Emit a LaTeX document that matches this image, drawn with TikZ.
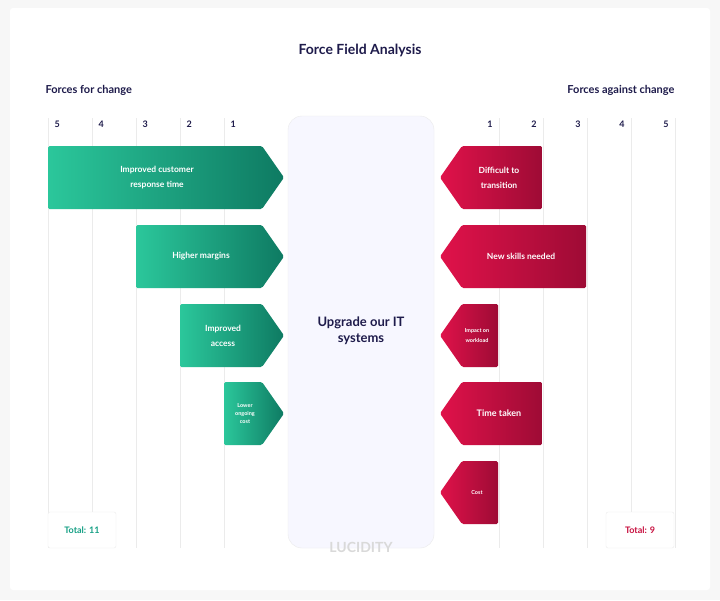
\documentclass[tikz,border=0pt]{standalone}
\usepackage{fontspec}
\setmainfont{Lato}
\usetikzlibrary{positioning}
\definecolor{forgreen}{HTML}{16A085}
\definecolor{forgreenl}{HTML}{2BC79B}
\definecolor{forgreend}{HTML}{0E7A62}
\definecolor{agred}{HTML}{C8103F}
\definecolor{agredl}{HTML}{E0124A}
\definecolor{agredd}{HTML}{9E0B35}
\definecolor{navy}{HTML}{1E1B4B}
\tikzset{x=1pt, y=-1pt,
        grid/.style={draw=black!8, line width=0.8pt},
        num/.style={font=\bfseries\fontsize{9}{10}\selectfont, text=navy},
        head/.style={font=\bfseries\fontsize{11}{13}\selectfont, text=navy},
        lbl/.style={text=white, align=center},
        tot/.style={draw=black!8, fill=white, rounded corners=2pt, minimum width=68pt, minimum height=36pt, font=\bfseries\fontsize{9}{10}\selectfont}}
\begin{document}
\begin{tikzpicture}
    \fill[black!3] (0,0) rectangle (720,600);
    \fill[white, rounded corners=3pt] (10,8) rectangle (710,590);
    \useasboundingbox (0,0) rectangle (720,600);

    \node[font=\bfseries\fontsize{14}{16}\selectfont, text=navy] (title) at (360,50) {Force Field Analysis};
    \node[head, anchor=west] (forhead) at (42,90) {Forces for change};
    \node[head, anchor=east] (aghead) at (678,90) {Forces against change};

    % scale lines with numbers
    \foreach \n/\x in {5/48, 4/92, 3/136, 2/180, 1/224} {
      \draw[grid] (\x,118) -- (\x,548);
      \node[num, anchor=west] (fn\n) at (\x+3,124) {\n};
    }
    \foreach \n/\x in {1/499, 2/543, 3/587, 4/631, 5/675} {
      \draw[grid] (\x,118) -- (\x,548);
      \node[num, anchor=east] (an\n) at (\x-3,124) {\n};
    }

    % centre box
    \draw[black!8, fill=blue!3, rounded corners=14pt] (288,116) rectangle (434,548);
    \node[font=\bfseries\fontsize{13}{16}\selectfont, text=navy, align=center] (goal) at (361,331) {Upgrade our IT\\systems};
    \node[font=\bfseries\fontsize{14}{16}\selectfont, text=black!15] (logo) at (361,547) {LUCIDITY};

    % forces for change
    \foreach \l/\t/\s/\b/\txt in {48/146/8.5/15/{Improved customer\\response time}, 136/225/8.5/15/Higher margins,
        180/304/8.5/15/{Improved\\access}, 224/382/5.5/8/{Lower\\ongoing\\cost}} {
      \shade[left color=forgreenl, right color=forgreend, rounded corners=1.5pt]
        (\l,\t) -- (262,\t) -- (284,\t+31.5) -- (262,\t+63) -- (\l,\t+63) -- cycle;
      \node[lbl, font=\bfseries\fontsize{\s}{\b}\selectfont] at ({(\l+266)/2},\t+31.5) {\txt};
    }

    % forces against change
    \foreach \r/\t/\s/\b/\txt in {542/146/8.5/15/{Difficult to\\transition}, 586/225/8.5/15/New skills needed,
        498/304/5.5/10/{Impact on\\workload}, 542/382/9/15/Time taken, 498/461/5.5/10/Cost} {
      \shade[left color=agredl, right color=agredd, rounded corners=1.5pt]
        (\r,\t) -- (462,\t) -- (440,\t+31.5) -- (462,\t+63) -- (\r,\t+63) -- cycle;
      \node[lbl, font=\bfseries\fontsize{\s}{\b}\selectfont] at ({(\r+456)/2},\t+31.5) {\txt};
    }

    % totals
    \node[tot, text=forgreen] (fortot) at (82,530) {Total: 11};
    \node[tot, text=agred] (agtot) at (640,530) {Total: 9};
\end{tikzpicture}
\end{document}
